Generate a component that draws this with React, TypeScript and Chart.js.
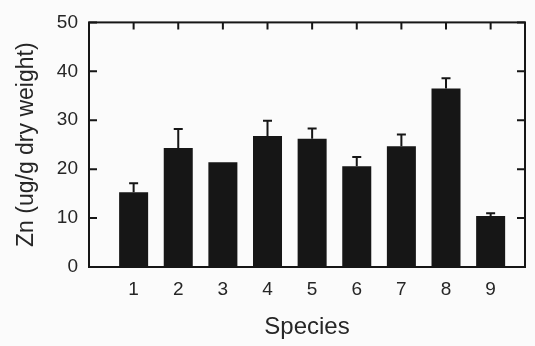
import React, { useEffect, useRef } from "react";
import { Chart, registerables } from "chart.js";

Chart.register(...registerables);

const species = [1, 2, 3, 4, 5, 6, 7, 8, 9];
const speciesLabels = ["1", "2", "3", "4", "5", "6", "7", "8", "9"];
const znMeans = [15.3, 24.3, 21.4, 26.8, 26.2, 20.6, 24.7, 36.5, 10.4];
const znErrors = [1.8, 3.9, 0, 3.1, 2.1, 1.9, 2.4, 2.1, 0.6];
const yTicks = [0, 10, 20, 30, 40, 50];

const INK = "#161616";
const TEXT = "#262626";
const FONT = "'Liberation Sans', Arial, Helvetica, sans-serif";

const framePlugin = {
  id: "frameAndErrors",
  afterDatasetsDraw(chart: any) {
    const { ctx, chartArea, scales } = chart;
    const xs = scales.x;
    const ys = scales.y;
    const { left, right, top, bottom } = chartArea;
    ctx.save();
    ctx.strokeStyle = INK;
    ctx.lineWidth = 2;
    ctx.lineCap = "butt";
    ctx.strokeRect(left, top, right - left, bottom - top);
    const tickLen = 8;
    ctx.beginPath();
    yTicks.forEach((v) => {
      const py = ys.getPixelForValue(v);
      ctx.moveTo(left, py);
      ctx.lineTo(left + tickLen, py);
      ctx.moveTo(right, py);
      ctx.lineTo(right - tickLen, py);
    });
    species.forEach((s) => {
      const px = xs.getPixelForValue(s);
      ctx.moveTo(px, top);
      ctx.lineTo(px, top + 7);
    });
    ctx.stroke();
    ctx.beginPath();
    species.forEach((s, i) => {
      const e = znErrors[i];
      if (!e) return;
      const px = xs.getPixelForValue(s);
      const y0 = ys.getPixelForValue(znMeans[i]);
      const y1 = ys.getPixelForValue(znMeans[i] + e);
      ctx.moveTo(px, y0);
      ctx.lineTo(px, y1);
      ctx.moveTo(px - 4.5, y1);
      ctx.lineTo(px + 4.5, y1);
    });
    ctx.stroke();
    ctx.restore();
  },
};

export default function App() {
  const canvasRef = useRef<HTMLCanvasElement | null>(null);

  useEffect(() => {
    document.body.style.margin = "0";
    document.body.style.background = "#fbfbfb";
    const canvas = canvasRef.current;
    if (!canvas) return;
    const chart = new Chart(canvas, {
      type: "bar",
      data: {
        datasets: [
          {
            label: "Zn",
            data: species.map((s, i) => ({ x: s, y: znMeans[i] })),
            backgroundColor: INK,
            borderWidth: 0,
            categoryPercentage: 1,
            barPercentage: 0.65,
          },
        ],
      },
      options: {
        responsive: false,
        animation: false,
        maintainAspectRatio: false,
        layout: { padding: { top: 18, right: 10, left: 0, bottom: 0 } },
        plugins: {
          legend: { display: false },
          tooltip: { enabled: false },
        },
        scales: {
          x: {
            type: "linear",
            offset: false,
            min: 0,
            max: 9.77,
            grid: { display: false, drawTicks: false },
            border: { display: false },
            afterBuildTicks: (scale: any) => {
              scale.ticks = species.map((v) => ({ value: v }));
            },
            afterFit: (scale: any) => {
              scale.height = 79;
            },
            ticks: {
              padding: 11,
              color: TEXT,
              font: { family: FONT, size: 19 },
              maxRotation: 0,
              autoSkip: false,
              callback: (v: any) => {
                const idx = species.indexOf(Number(v));
                return idx >= 0 ? speciesLabels[idx] : "";
              },
            },
            title: {
              display: true,
              text: "Species",
              color: TEXT,
              font: { family: FONT, size: 24 },
              padding: { top: 0, bottom: 4 },
            },
          },
          y: {
            type: "linear",
            min: 0,
            max: 50,
            grid: { display: false, drawTicks: false },
            border: { display: false },
            afterBuildTicks: (scale: any) => {
              scale.ticks = yTicks.map((v) => ({ value: v }));
            },
            afterFit: (scale: any) => {
              scale.width = 89;
            },
            ticks: {
              padding: 11,
              color: TEXT,
              font: { family: FONT, size: 19 },
            },
            title: {
              display: true,
              text: "Zn (ug/g dry weight)",
              color: TEXT,
              font: { family: FONT, size: 23 },
              padding: { top: 13, bottom: 0 },
            },
          },
        },
      },
      plugins: [framePlugin],
    });
    return () => chart.destroy();
  }, []);

  return (
    <div style={{ width: 535, height: 346, background: "#fbfbfb" }}>
      <canvas ref={canvasRef} width={535} height={346} />
    </div>
  );
}
